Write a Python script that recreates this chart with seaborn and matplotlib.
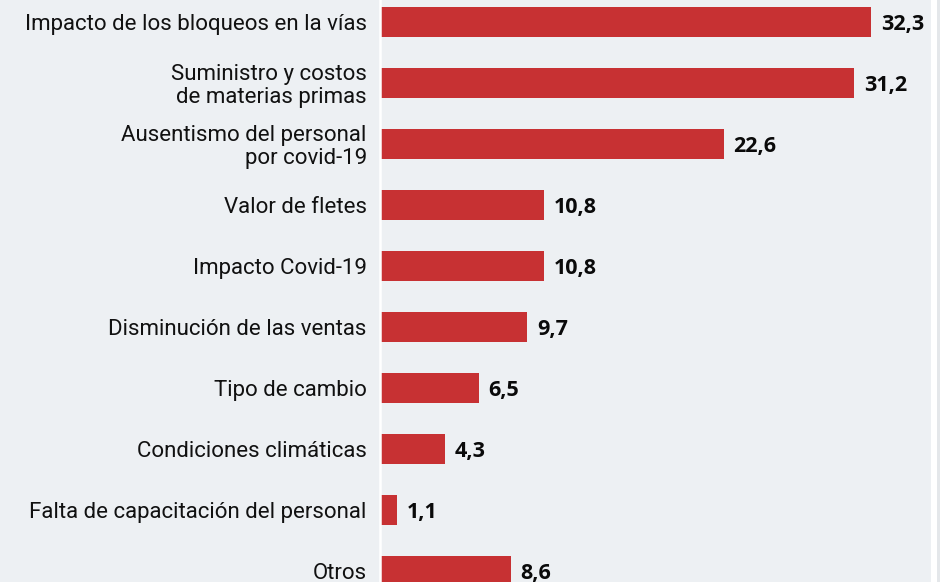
import matplotlib
matplotlib.use("Agg")
import matplotlib.pyplot as plt
import seaborn as sns
import pandas as pd
from matplotlib.patches import Rectangle

categories = [
    "Impacto de los bloqueos en la vías",
    "Suministro y costos\nde materias primas",
    "Ausentismo del personal\npor covid-19",
    "Valor de fletes",
    "Impacto Covid-19",
    "Disminución de las ventas",
    "Tipo de cambio",
    "Condiciones climáticas",
    "Falta de capacitación del personal",
    "Otros",
]
values = [32.3, 31.2, 22.6, 10.8, 10.8, 9.7, 6.5, 4.3, 1.1, 8.6]
value_labels = ["32,3", "31,2", "22,6", "10,8", "10,8", "9,7", "6,5", "4,3", "1,1", "8,6"]

BG = "#edf0f3"
RED = "#c73133"

sns.set_theme(style="white")
plt.rcParams["font.family"] = ["Roboto", "DejaVu Sans"]

df = pd.DataFrame({"cat": categories, "val": values})

fig = plt.figure(figsize=(9.4, 5.82), dpi=100, facecolor=BG)
ax = fig.add_axes([380 / 940, 0, (931 - 380) / 940, 1])
ax.set_facecolor(BG)

sns.barplot(data=df, x="val", y="cat", orient="h", color=RED, saturation=1,
            width=0.49, ax=ax, edgecolor="none")

ax.set_xlim(0, 36.25)
ax.set_ylim(9.18, -0.36)
ax.set_xlabel("")
ax.set_ylabel("")
ax.set_xticks([])
for s in ["top", "right", "bottom"]:
    ax.spines[s].set_visible(False)
ax.spines["left"].set_color("white")
ax.spines["left"].set_linewidth(1.8)
ax.tick_params(axis="y", length=0, pad=9.5, labelsize=16, labelcolor="#111111")
for t in ax.get_yticklabels():
    t.set_linespacing(1.08)
    if "\n" in t.get_text():
        t.set_y(t.get_position()[1])

for i, (v, lab) in enumerate(zip(values, value_labels)):
    ax.annotate(lab, xy=(v, i), xytext=(7, -2), textcoords="offset points",
                ha="left", va="center", fontsize=15.5, fontweight="bold",
                color="#0a0a0a", family=["Open Sans", "DejaVu Sans"])

# right-edge white strip as in reference
fig.patches.append(Rectangle((931 / 940, 0), 6 / 940, 1, transform=fig.transFigure,
                             facecolor="white", edgecolor="none", zorder=5))
fig.patches.append(Rectangle((937 / 940, 0), 3 / 940, 1, transform=fig.transFigure,
                             facecolor="#e4e7ea", edgecolor="none", zorder=5))

fig.savefig("out.png", dpi=100, facecolor=BG)
